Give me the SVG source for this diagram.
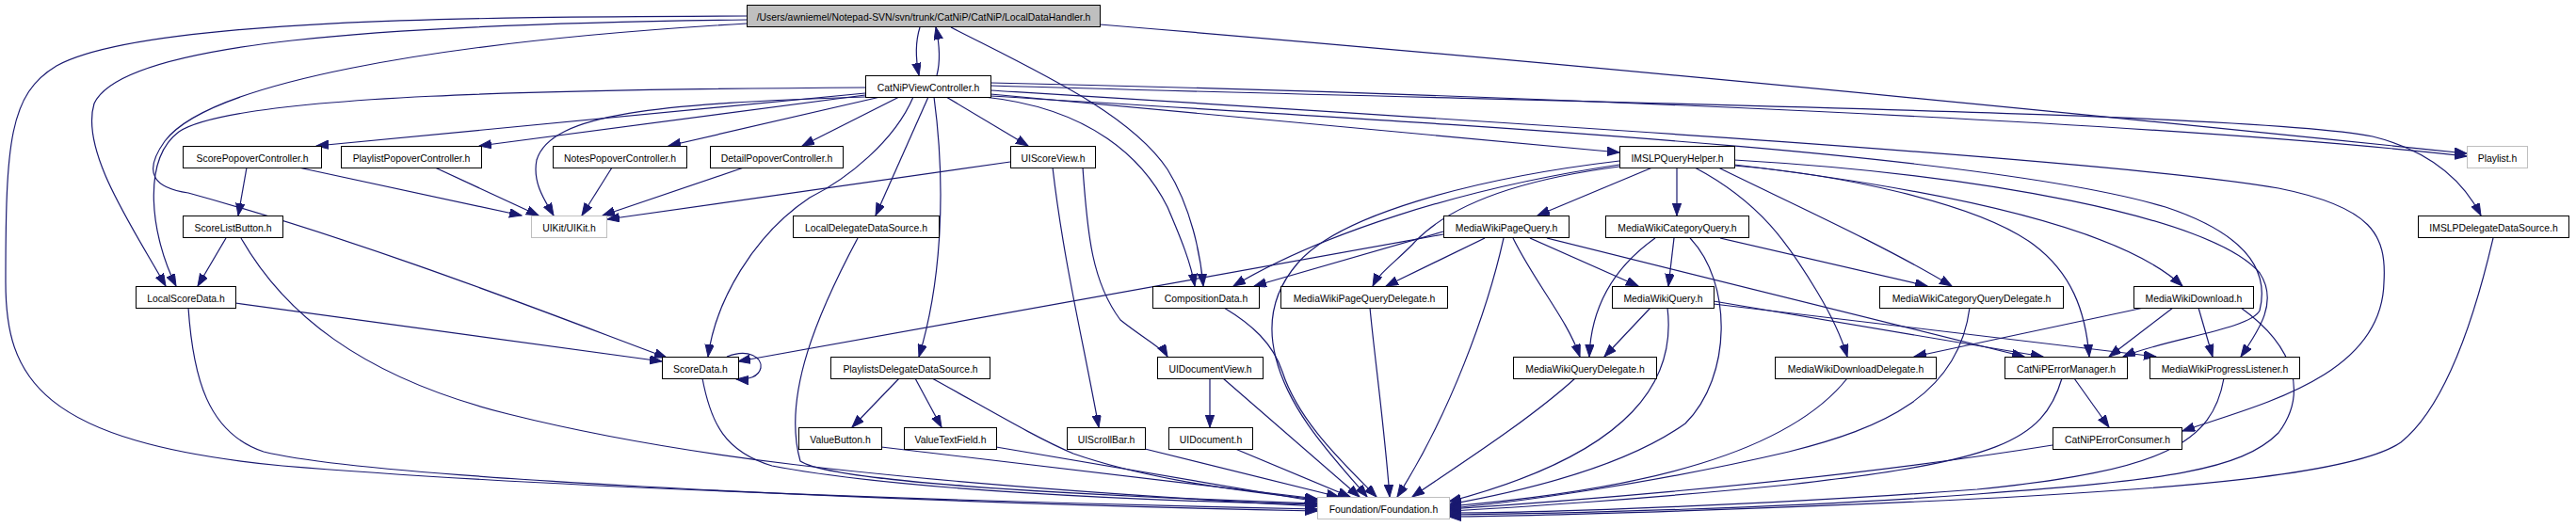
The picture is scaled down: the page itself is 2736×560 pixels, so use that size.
<svg xmlns="http://www.w3.org/2000/svg" width="2736" height="560" viewBox="0 0 2736 560">
<defs>
<marker id="ah" markerUnits="userSpaceOnUse" markerWidth="14" markerHeight="10" refX="13" refY="4.7" orient="auto"><path d="M0,0 L13,4.7 L0,9.4 z" fill="#191970" stroke="#191970" stroke-width="1"/></marker>
<style>
.node rect{fill:#ffffff;stroke:#000000;stroke-width:1}
.node.ext rect{stroke:#bfbfbf}
.node.root rect{fill:#bfbfbf}
.node text{font-family:"Liberation Sans",Arial,Helvetica,sans-serif;font-size:10.4px;fill:#000000;text-anchor:middle}
#edges path{fill:none;stroke:#191970;stroke-width:1.2;marker-end:url(#ah)}
</style>
</defs>
<rect width="2736" height="560" fill="#ffffff"/>
<g id="edges">
<path d="M977,29 C972,45 972,60 976,80"/>
<path d="M995,80 C999,65 998,48 994,29"/>
<path d="M793,21 C400,26 130,45 100,110 C85,160 140,240 176,304"/>
<path d="M793,17 C500,18 150,20 60,70 C10,100 6,150 6,300 C6,400 40,470 300,495 C600,520 1100,535 1399,541"/>
<path d="M793,25 C450,45 220,90 175,150 C150,185 165,200 200,205 C400,260 600,340 708,380"/>
<path d="M919,93 C600,95 250,100 190,140 C150,170 160,250 187,304"/>
<path d="M1010,29 C1100,75 1200,120 1240,180 C1265,220 1275,270 1278,304"/>
<path d="M1168,26 C1700,70 2300,130 2620,163"/>
<path d="M919,99 L336,155"/>
<path d="M919,101 L509,155"/>
<path d="M935,103 L710,155"/>
<path d="M955,103 L852,155"/>
<path d="M1005,103 L1092,155"/>
<path d="M919,103 C700,110 585,120 570,170 C565,195 580,215 588,229"/>
<path d="M970,103 C950,150 900,190 860,210 C800,250 760,320 752,379"/>
<path d="M986,103 L930,229"/>
<path d="M992,103 C1005,200 1000,300 976,379"/>
<path d="M1045,103 C1160,115 1215,170 1240,220 C1255,255 1265,280 1269,304"/>
<path d="M1052,100 L1720,162"/>
<path d="M1052,88 C1600,100 2300,130 2620,166"/>
<path d="M1052,91 C1700,110 2400,120 2520,145 C2580,160 2615,190 2635,229"/>
<path d="M1052,96 C1600,130 2250,170 2420,200 C2520,220 2535,250 2532,300 C2530,400 2400,430 2318,458"/>
<path d="M1052,102 C1500,130 2100,160 2300,220 C2390,250 2410,290 2400,330 C2390,350 2300,360 2255,379"/>
<path d="M1842,170 C2100,185 2350,230 2400,290 C2420,320 2400,350 2380,379"/>
<path d="M1842,175 C2050,200 2250,240 2318,304"/>
<path d="M1842,176 C1950,185 2100,215 2160,260 C2200,290 2215,330 2219,379"/>
<path d="M1825,178 C1900,215 2000,260 2073,304"/>
<path d="M1800,178 C1870,215 1900,260 1930,310 C1945,335 1955,355 1962,379"/>
<path d="M1755,178 L1633,229"/>
<path d="M1781,178 L1781,229"/>
<path d="M1720,175 C1550,200 1400,250 1310,304"/>
<path d="M1720,177 C1620,190 1540,215 1500,260 C1480,280 1465,290 1458,304"/>
<path d="M1720,171 C1560,190 1420,230 1378,280 C1352,310 1346,345 1355,380 C1370,440 1420,490 1452,528"/>
<path d="M1533,249 L784,384"/>
<path d="M1533,246 L1332,304"/>
<path d="M1577,253 L1472,304"/>
<path d="M1625,253 L1740,304"/>
<path d="M1607,253 C1630,300 1665,340 1678,379"/>
<path d="M1597,253 C1580,330 1540,440 1484,528"/>
<path d="M1643,253 L2150,379"/>
<path d="M1758,253 C1720,280 1690,320 1688,379"/>
<path d="M1778,253 L1772,304"/>
<path d="M1827,253 L2047,304"/>
<path d="M1795,253 C1840,300 1840,400 1790,450 C1720,500 1600,525 1539,536"/>
<path d="M1753,327 L1704,379"/>
<path d="M1771,327 C1780,400 1740,480 1539,533"/>
<path d="M1820,320 L2170,379"/>
<path d="M1820,323 L2290,379"/>
<path d="M2277,327 L2033,379"/>
<path d="M2308,327 L2240,379"/>
<path d="M2335,327 L2350,379"/>
<path d="M2380,327 C2440,370 2450,420 2420,460 C2380,500 2300,510 2100,525 C1900,540 1650,546 1539,547"/>
<path d="M2203,402 L2240,454"/>
<path d="M2190,402 C2170,470 2120,490 1900,515 C1750,530 1600,540 1539,543"/>
<path d="M2362,402 C2350,470 2300,500 2100,520 C1900,535 1650,545 1539,545"/>
<path d="M2180,473 C1950,510 1700,530 1539,541"/>
<path d="M1962,402 C1900,480 1750,520 1539,538"/>
<path d="M1673,402 C1620,450 1540,500 1500,528"/>
<path d="M2092,327 C2080,420 2000,455 1900,480 C1750,515 1600,535 1539,540"/>
<path d="M1455,327 C1460,380 1470,450 1476,528"/>
<path d="M1300,327 C1330,345 1352,365 1362,395 C1380,450 1430,495 1462,528"/>
<path d="M2648,253 C2630,330 2600,430 2550,470 C2500,505 2300,520 2100,530 C1900,540 1650,548 1539,549"/>
<path d="M1299,402 L1444,528"/>
<path d="M1285,402 L1285,454"/>
<path d="M1312,477 L1434,528"/>
<path d="M1216,477 L1422,528"/>
<path d="M1118,178 C1130,280 1150,360 1167,454"/>
<path d="M1150,178 C1155,250 1160,300 1190,340 C1215,360 1235,370 1240,379"/>
<path d="M1073,172 L645,233"/>
<path d="M262,178 L253,229"/>
<path d="M317,178 L554,229"/>
<path d="M462,178 L572,229"/>
<path d="M650,178 L618,229"/>
<path d="M790,178 L640,229"/>
<path d="M240,253 L210,304"/>
<path d="M250,322 L703,384"/>
<path d="M200,327 C205,400 220,460 280,480 C400,510 1000,535 1399,543"/>
<path d="M256,253 C300,330 380,400 540,440 C700,480 900,510 1399,538"/>
<path d="M772,379 C795,370 810,380 808,391 C806,400 795,404 782,403"/>
<path d="M746,402 C755,450 770,480 820,495 C950,520 1200,532 1399,536"/>
<path d="M911,253 C870,330 830,420 850,490 C880,510 1100,525 1399,535"/>
<path d="M990,402 C1050,435 1100,465 1140,482 C1220,510 1320,522 1399,531"/>
<path d="M955,402 L905,454"/>
<path d="M972,402 L1000,454"/>
<path d="M936,475 L1399,530"/>
<path d="M1058,475 L1399,533"/>
</g>
<g id="n_LocalDataHandler" class="node root"><rect x="793.5" y="5.5" width="375" height="23"/><text x="981" y="21.5">/Users/awniemel/Notepad-SVN/svn/trunk/CatNiP/CatNiP/LocalDataHandler.h</text></g>
<g id="n_CatNiPViewController" class="node"><rect x="919.5" y="80.5" width="133" height="23"/><text x="986" y="96.5">CatNiPViewController.h</text></g>
<g id="n_ScorePopoverController" class="node"><rect x="194.5" y="155.5" width="147" height="23"/><text x="268" y="171.5">ScorePopoverController.h</text></g>
<g id="n_PlaylistPopoverController" class="node"><rect x="362.5" y="155.5" width="149" height="23"/><text x="437" y="171.5">PlaylistPopoverController.h</text></g>
<g id="n_NotesPopoverController" class="node"><rect x="587.5" y="155.5" width="142" height="23"/><text x="658.5" y="171.5">NotesPopoverController.h</text></g>
<g id="n_DetailPopoverController" class="node"><rect x="754.5" y="155.5" width="141" height="23"/><text x="825" y="171.5">DetailPopoverController.h</text></g>
<g id="n_UIScoreView" class="node"><rect x="1073.5" y="155.5" width="90" height="23"/><text x="1118.5" y="171.5">UIScoreView.h</text></g>
<g id="n_IMSLPQueryHelper" class="node"><rect x="1720.5" y="155.5" width="122" height="23"/><text x="1781.5" y="171.5">IMSLPQueryHelper.h</text></g>
<g id="n_Playlist" class="node ext"><rect x="2620.5" y="155.5" width="64" height="23"/><text x="2652.5" y="171.5">Playlist.h</text></g>
<g id="n_ScoreListButton" class="node"><rect x="194.5" y="229.5" width="106" height="23"/><text x="247.5" y="245.5">ScoreListButton.h</text></g>
<g id="n_UIKit" class="node ext"><rect x="564.5" y="229.5" width="80" height="23"/><text x="604.5" y="245.5">UIKit/UIKit.h</text></g>
<g id="n_LocalDelegateDataSource" class="node"><rect x="842.5" y="229.5" width="155" height="23"/><text x="920" y="245.5">LocalDelegateDataSource.h</text></g>
<g id="n_MediaWikiPageQuery" class="node"><rect x="1533.5" y="229.5" width="133" height="23"/><text x="1600" y="245.5">MediaWikiPageQuery.h</text></g>
<g id="n_MediaWikiCategoryQuery" class="node"><rect x="1705.5" y="229.5" width="152" height="23"/><text x="1781.5" y="245.5">MediaWikiCategoryQuery.h</text></g>
<g id="n_IMSLPDelegateDataSource" class="node"><rect x="2568.5" y="229.5" width="160" height="23"/><text x="2648.5" y="245.5">IMSLPDelegateDataSource.h</text></g>
<g id="n_LocalScoreData" class="node"><rect x="144.5" y="304.5" width="106" height="23"/><text x="197.5" y="320.5">LocalScoreData.h</text></g>
<g id="n_CompositionData" class="node"><rect x="1224.5" y="304.5" width="113" height="23"/><text x="1281" y="320.5">CompositionData.h</text></g>
<g id="n_MediaWikiPageQueryDelegate" class="node"><rect x="1360.5" y="304.5" width="177" height="23"/><text x="1449" y="320.5">MediaWikiPageQueryDelegate.h</text></g>
<g id="n_MediaWikiQuery" class="node"><rect x="1712.5" y="304.5" width="108" height="23"/><text x="1766.5" y="320.5">MediaWikiQuery.h</text></g>
<g id="n_MediaWikiCategoryQueryDelegate" class="node"><rect x="1996.5" y="304.5" width="195" height="23"/><text x="2094" y="320.5">MediaWikiCategoryQueryDelegate.h</text></g>
<g id="n_MediaWikiDownload" class="node"><rect x="2266.5" y="304.5" width="127" height="23"/><text x="2330" y="320.5">MediaWikiDownload.h</text></g>
<g id="n_ScoreData" class="node"><rect x="703.5" y="379.5" width="81" height="23"/><text x="744" y="395.5">ScoreData.h</text></g>
<g id="n_PlaylistsDelegateDataSource" class="node"><rect x="882.5" y="379.5" width="169" height="23"/><text x="967" y="395.5">PlaylistsDelegateDataSource.h</text></g>
<g id="n_UIDocumentView" class="node"><rect x="1229.5" y="379.5" width="112" height="23"/><text x="1285.5" y="395.5">UIDocumentView.h</text></g>
<g id="n_MediaWikiQueryDelegate" class="node"><rect x="1607.5" y="379.5" width="152" height="23"/><text x="1683.5" y="395.5">MediaWikiQueryDelegate.h</text></g>
<g id="n_MediaWikiDownloadDelegate" class="node"><rect x="1885.5" y="379.5" width="171" height="23"/><text x="1971" y="395.5">MediaWikiDownloadDelegate.h</text></g>
<g id="n_CatNiPErrorManager" class="node"><rect x="2129.5" y="379.5" width="130" height="23"/><text x="2194.5" y="395.5">CatNiPErrorManager.h</text></g>
<g id="n_MediaWikiProgressListener" class="node"><rect x="2283.5" y="379.5" width="159" height="23"/><text x="2363" y="395.5">MediaWikiProgressListener.h</text></g>
<g id="n_ValueButton" class="node"><rect x="848.5" y="454.5" width="88" height="23"/><text x="892.5" y="470.5">ValueButton.h</text></g>
<g id="n_ValueTextField" class="node"><rect x="960.5" y="454.5" width="98" height="23"/><text x="1009.5" y="470.5">ValueTextField.h</text></g>
<g id="n_UIScrollBar" class="node"><rect x="1133.5" y="454.5" width="83" height="23"/><text x="1175" y="470.5">UIScrollBar.h</text></g>
<g id="n_UIDocument" class="node"><rect x="1241.5" y="454.5" width="89" height="23"/><text x="1286" y="470.5">UIDocument.h</text></g>
<g id="n_CatNiPErrorConsumer" class="node"><rect x="2180.5" y="454.5" width="137" height="23"/><text x="2249" y="470.5">CatNiPErrorConsumer.h</text></g>
<g id="n_Foundation" class="node ext"><rect x="1399.5" y="528.5" width="140" height="23"/><text x="1469.5" y="544.5">Foundation/Foundation.h</text></g>
</svg>
